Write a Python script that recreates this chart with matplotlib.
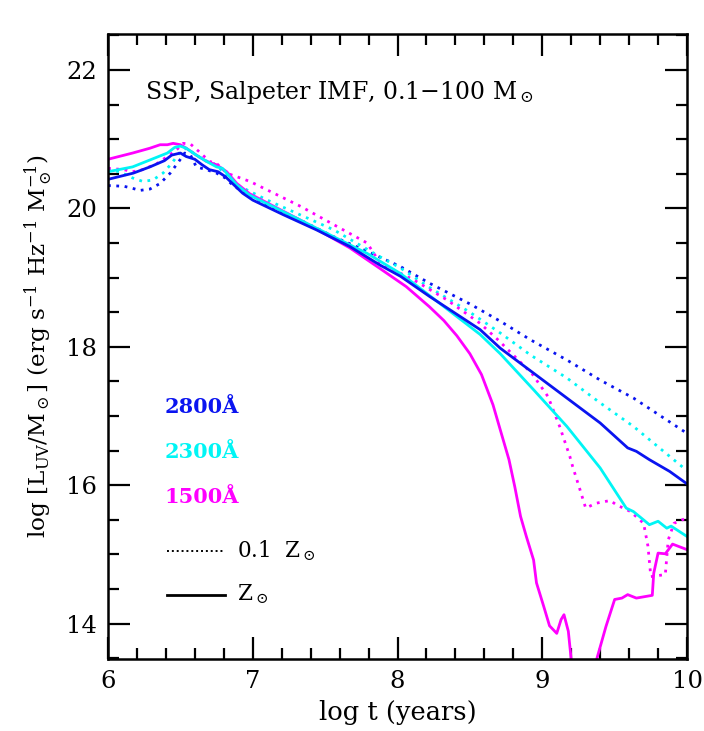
import numpy as np
import matplotlib
matplotlib.use("Agg")
import matplotlib.pyplot as plt
from matplotlib.ticker import MultipleLocator

plt.rcParams['font.family'] = ['DejaVu Serif']
plt.rcParams['mathtext.fontset'] = 'dejavuserif'

#-----------------------------------------
# DATA (log t, log L)
#-----------------------------------------

# 2800 A, solar metallicity
t_2800_z1 = [6.00, 6.175, 6.29, 6.39, 6.44, 6.50, 6.54, 6.60, 6.65, 6.70, 6.76, 6.81,
             6.87, 6.93, 7.00, 7.21, 7.44, 7.67, 7.88, 8.02, 8.22, 8.57, 8.71, 8.94,
             9.17, 9.40, 9.59, 9.65, 9.74, 9.88, 10.0]
L_2800_z1 = [20.42, 20.51, 20.60, 20.69, 20.77, 20.80, 20.75, 20.71, 20.63, 20.56, 20.53, 20.46,
             20.34, 20.22, 20.12, 19.91, 19.69, 19.45, 19.18, 19.02, 18.73, 18.25, 17.98, 17.62,
             17.26, 16.90, 16.54, 16.49, 16.37, 16.20, 16.02]

# 2800 A, 0.1 solar
t_2800_z01 = [6.00, 6.11, 6.17, 6.22, 6.29, 6.36, 6.43, 6.49, 6.53, 6.57, 6.61, 6.68,
              6.75, 6.81, 6.87, 7.10, 7.33, 7.56, 7.79, 8.02, 8.22, 8.50, 8.71, 8.92,
              9.17, 9.40, 9.63, 10.0]
L_2800_z01 = [20.33, 20.32, 20.29, 20.26, 20.28, 20.36, 20.51, 20.68, 20.80, 20.77, 20.60, 20.56,
              20.51, 20.44, 20.32, 20.05, 19.83, 19.59, 19.38, 19.16, 18.92, 18.62, 18.37, 18.10,
              17.81, 17.52, 17.26, 16.75]

# 2300 A, solar metallicity
t_2300_z1 = [6.00, 6.17, 6.29, 6.41, 6.46, 6.50, 6.54, 6.61, 6.68, 6.75, 6.79, 6.82,
             6.89, 6.98, 7.33, 7.79, 8.02, 8.11, 8.34, 8.57, 8.71, 8.94, 9.17, 9.40,
             9.58, 9.63, 9.74, 9.80, 9.86, 9.89, 10.0]
L_2300_z1 = [20.53, 20.60, 20.70, 20.80, 20.88, 20.90, 20.87, 20.77, 20.68, 20.60, 20.58, 20.51,
             20.34, 20.19, 19.83, 19.35, 19.06, 18.92, 18.55, 18.18, 17.90, 17.38, 16.85, 16.25,
             15.67, 15.62, 15.43, 15.48, 15.38, 15.41, 15.26]

# 2300 A, 0.1 solar
t_2300_z01 = [6.00, 6.08, 6.17, 6.24, 6.31, 6.38, 6.44, 6.50, 6.54, 6.59, 6.66, 6.73,
              6.77, 6.84, 6.91, 7.10, 7.56, 7.88, 8.02, 8.22, 8.50, 8.71, 8.92, 9.17,
              9.40, 9.63, 10.0]
L_2300_z01 = [20.56, 20.53, 20.44, 20.39, 20.41, 20.51, 20.65, 20.82, 20.87, 20.80, 20.70, 20.65,
              20.58, 20.44, 20.32, 20.12, 19.69, 19.30, 19.14, 18.86, 18.50, 18.20, 17.88, 17.55,
              17.19, 16.85, 16.21]

# 1500 A, solar metallicity
t_1500_z1 = [6.00, 6.17, 6.29, 6.36, 6.41, 6.45, 6.50, 6.54, 6.61, 6.68, 6.75, 6.82,
             6.89, 6.98, 7.33, 7.67, 7.88, 8.06, 8.22, 8.32, 8.41, 8.50, 8.58, 8.66,
             8.71, 8.77, 8.81, 8.85, 8.89, 8.94, 8.96, 9.01, 9.05, 9.10, 9.13, 9.15,
             9.18, 9.20, 9.28, 9.375, 9.44, 9.50, 9.55, 9.59, 9.65, 9.76, 9.77, 9.80,
             9.85, 9.90, 10.0]
L_1500_z1 = [20.71, 20.80, 20.87, 20.92, 20.92, 20.94, 20.92, 20.87, 20.77, 20.68, 20.63, 20.53,
             20.36, 20.21, 19.83, 19.43, 19.13, 18.87, 18.58, 18.38, 18.16, 17.90, 17.60, 17.16,
             16.80, 16.37, 15.98, 15.55, 15.26, 14.92, 14.59, 14.25, 13.97, 13.86, 14.06, 14.13,
             13.89, 13.48, 13.1, 13.48, 13.96, 14.35, 14.37, 14.42, 14.37, 14.41, 14.73, 15.02,
             15.01, 15.15, 15.07]

# 1500 A, 0.1 solar
t_1500_z01 = [6.00, 6.11, 6.17, 6.24, 6.34, 6.41, 6.47, 6.52, 6.57, 6.64, 6.70, 6.75,
              6.82, 6.98, 7.33, 7.79, 7.88, 8.11, 8.34, 8.57, 8.70, 8.81, 8.93, 9.04,
              9.12, 9.19, 9.21, 9.26, 9.30, 9.37, 9.47, 9.51, 9.61, 9.70, 9.73, 9.75,
              9.85, 9.87, 9.91, 10.0]
L_1500_z01 = [20.58, 20.56, 20.53, 20.56, 20.65, 20.75, 20.84, 20.94, 20.93, 20.80, 20.68, 20.65,
              20.51, 20.39, 20.03, 19.50, 19.21, 18.97, 18.68, 18.34, 18.09, 17.86, 17.61, 17.28,
              16.85, 16.42, 16.27, 15.94, 15.67, 15.74, 15.78, 15.72, 15.62, 15.45, 15.12, 14.68,
              14.71, 15.21, 15.45, 15.53]

wave_labels = ['2800Å', '2300Å', '1500Å']
wave_colors = ['#0a14f0', '#00f5f5', '#ff00ff']


#-----------------------------------------
# FIGURE
#-----------------------------------------

fig = plt.figure(figsize=(7.04, 7.31), dpi=100)
ax = fig.add_axes([0.1534, 0.0985, 0.8225, 0.855])

dots = (0, (1, 2))
lw = 2.0

ax.plot(t_2800_z01, L_2800_z01, color=wave_colors[0], lw=lw, ls=dots)
ax.plot(t_2300_z01, L_2300_z01, color=wave_colors[1], lw=lw, ls=dots)
ax.plot(t_1500_z01, L_1500_z01, color=wave_colors[2], lw=lw, ls=dots)
ax.plot(t_1500_z1, L_1500_z1, color=wave_colors[2], lw=lw)
ax.plot(t_2300_z1, L_2300_z1, color=wave_colors[1], lw=lw)
ax.plot(t_2800_z1, L_2800_z1, color=wave_colors[0], lw=lw)

ax.set_xlim(6, 10)
ax.set_ylim(13.49, 22.52)

ax.xaxis.set_major_locator(MultipleLocator(1))
ax.xaxis.set_minor_locator(MultipleLocator(0.2))
ax.yaxis.set_major_locator(MultipleLocator(2))
ax.yaxis.set_minor_locator(MultipleLocator(0.5))
ax.tick_params(which='both', direction='in', top=True, right=True, width=1.6,
               labelsize=17.5, pad=8)
ax.tick_params(which='major', length=16)
ax.tick_params(which='minor', length=8)
for s in ax.spines.values():
    s.set_linewidth(1.8)

ax.set_xlabel('log t (years)', fontsize=18.5, labelpad=5)
ax.set_ylabel(r'log [L$_{\rm UV}$/M$_\odot$] (erg s$^{-1}$ Hz$^{-1}$ M$_\odot^{-1}$)',
              fontsize=16.7, labelpad=8)

ax.text(6.256, 21.67, r'SSP, Salpeter IMF, 0.1$-$100 M$_\odot$', fontsize=17,
        va='center', ha='left')

for lab, c, y in zip(wave_labels, wave_colors, [17.13, 16.48, 15.83]):
    ax.text(6.39, y, lab, color=c, fontsize=15, fontweight='bold', va='center', ha='left')

ax.plot([6.41, 6.81], [15.05, 15.05], color='k', lw=1.4, ls=(0, (1, 1.5)))
ax.plot([6.41, 6.81], [14.42, 14.42], color='k', lw=2.0)
ax.text(6.89, 15.05, r'0.1  Z$_\odot$', fontsize=15.5, va='center', ha='left')
ax.text(6.89, 14.42, r'Z$_\odot$', fontsize=15.5, va='center', ha='left')

fig.savefig('out.png', dpi=100)
